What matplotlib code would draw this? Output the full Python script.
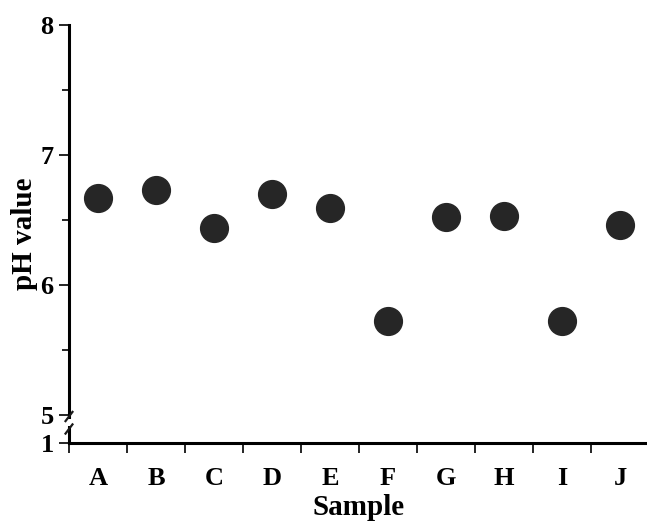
import numpy as np
import matplotlib
matplotlib.use('Agg')
import matplotlib.pyplot as plt
from matplotlib.patches import Rectangle

samples = ['A', 'B', 'C', 'D', 'E', 'F', 'G', 'H', 'I', 'J']
ph = [6.67, 6.73, 6.44, 6.70, 6.59, 5.72, 6.52, 6.53, 5.72, 6.46]

plt.rcParams['font.family'] = 'Liberation Serif'
plt.rcParams['font.weight'] = 'bold'

# broken y scale: 1..5 squeezed into a small strip
k = 0.215 / 4.0
def fwd(y):
    y = np.asarray(y, dtype=float)
    return np.where(y >= 5, y, 5 - (5 - y) * k)
def inv(t):
    t = np.asarray(t, dtype=float)
    return np.where(t >= 5, t, 5 - (5 - t) / k)

fig = plt.figure(figsize=(6.47, 5.26), dpi=100)
ax = fig.add_axes([69 / 647, 1 - 443 / 526, 580 / 647, 418 / 526])
ax.set_yscale('function', functions=(fwd, inv))

x = np.arange(len(samples)) + 0.5
ax.scatter(x, ph, s=400, color='#262626', zorder=3, clip_on=False)

ax.set_xlim(0, len(samples))
ax.set_ylim(1, 8)

ax.set_xticks(x)
ax.set_xticklabels(samples)
ax.set_xticks(np.arange(len(samples) + 1), minor=True)
ax.tick_params(axis='x', which='major', length=0, pad=17, labelsize=19)
ax.tick_params(axis='x', which='minor', length=7, width=1.2, direction='out')

ax.set_yticks([1, 5, 6, 7, 8])
ax.set_yticklabels(['1', '5', '6', '7', '8'])
ax.set_yticks([5.5, 6.5, 7.5], minor=True)
ax.tick_params(axis='y', which='major', length=7, width=1.2, pad=4, labelsize=19)
ax.tick_params(axis='y', which='minor', length=5, width=1.2)

for s in ['top', 'right']:
    ax.spines[s].set_visible(False)
for s in ['left', 'bottom']:
    ax.spines[s].set_linewidth(2.2)

# break marks on the y axis
ax.add_patch(Rectangle((-0.008, 0.041), 0.016, 0.016, transform=ax.transAxes,
                       facecolor='white', edgecolor='none', clip_on=False, zorder=4))
for yc in [0.0634, 0.0335]:
    ax.plot([-0.006, 0.006], [yc - 0.011, yc + 0.011], transform=ax.transAxes,
            color='#1a1a1a', lw=1.6, clip_on=False, zorder=5)

ax.set_xlabel('Sample', fontsize=21, fontweight='bold', labelpad=3)
ax.set_ylabel('pH value', fontsize=21, fontweight='bold', labelpad=2)

fig.savefig('out.png', dpi=100)
